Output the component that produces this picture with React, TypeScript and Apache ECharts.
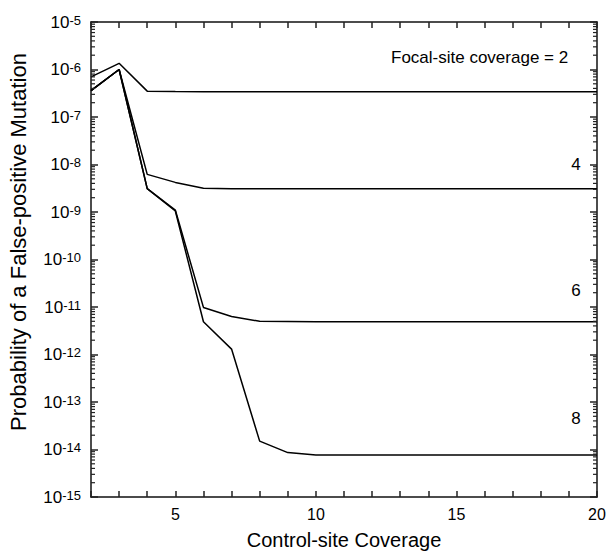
import React, { useEffect, useRef } from "react";
import * as echarts from "echarts";

const xValues = [2, 3, 4, 5, 6, 7, 8, 9, 10, 11, 12, 13, 14, 15, 16, 17, 18, 19, 20];
const focal2 = [7.0e-7, 1.35e-6, 3.5e-7, 3.45e-7, 3.42e-7, 3.4e-7, 3.4e-7, 3.4e-7, 3.4e-7, 3.4e-7, 3.4e-7, 3.4e-7, 3.4e-7, 3.4e-7, 3.4e-7, 3.4e-7, 3.4e-7, 3.4e-7, 3.4e-7];
const focal4 = [3.6e-7, 1.0e-6, 6.2e-9, 4.2e-9, 3.15e-9, 3.1e-9, 3.1e-9, 3.1e-9, 3.1e-9, 3.1e-9, 3.1e-9, 3.1e-9, 3.1e-9, 3.1e-9, 3.1e-9, 3.1e-9, 3.1e-9, 3.1e-9, 3.1e-9];
const focal6 = [3.6e-7, 1.0e-6, 3.1e-9, 1.1e-9, 9.8e-12, 6.3e-12, 5.0e-12, 4.95e-12, 4.9e-12, 4.9e-12, 4.9e-12, 4.9e-12, 4.9e-12, 4.9e-12, 4.9e-12, 4.9e-12, 4.9e-12, 4.9e-12, 4.9e-12];
const focal8 = [3.6e-7, 1.0e-6, 3.1e-9, 1.05e-9, 4.9e-12, 1.3e-12, 1.5e-14, 8.6e-15, 7.7e-15, 7.7e-15, 7.7e-15, 7.7e-15, 7.7e-15, 7.7e-15, 7.7e-15, 7.7e-15, 7.7e-15, 7.7e-15, 7.7e-15];

const xLabelValues = [5, 10, 15, 20];
const yMin = 1e-15;
const yMax = 1e-5;
const xMin = 2;
const xMax = 20;

const curveLabels = ["Focal-site coverage = 2", "4", "6", "8"];

const minorTickValues: number[] = [];
for (let e = -15; e < -5; e++) {
  for (let k = 2; k <= 9; k++) minorTickValues.push(k * Math.pow(10, e));
}

const FONT = "Liberation Sans, Arial, sans-serif";
const AX = "#111";
const TK = "#222";

export default function App() {
  const ref = useRef<HTMLDivElement>(null);
  useEffect(() => {
    if (!ref.current) return;
    const chart = echarts.init(ref.current, undefined, { renderer: "svg" });
    const mk = (arr: number[]) => xValues.map((x, i) => [x, arr[i]]);
    const lineSeries = (name: string, arr: number[]) => ({
      name,
      type: "line",
      data: mk(arr),
      symbol: "none",
      lineStyle: { color: "#000", width: 1.5 },
      z: 3,
    });
    const yLabelFmt = (v: number) => {
      const e = Math.round(Math.log10(v));
      return `{b|10}{s|${e}}`;
    };
    const xTick = { show: true, inside: true, length: 6, lineStyle: { color: TK, width: 1.5 } };
    const yTick = { show: true, inside: true, length: 7, lineStyle: { color: TK, width: 1.5 } };
    chart.setOption({
      animation: false,
      grid: { left: 91, right: 11, top: 22, bottom: 54, outerBoundsMode: "none" },
      xAxis: [
        {
          type: "value",
          min: xMin,
          max: xMax,
          interval: 1,
          position: "bottom",
          axisLine: { show: true, lineStyle: { color: AX, width: 1.5 } },
          axisTick: xTick,
          splitLine: { show: false },
          name: "Control-site Coverage",
          nameLocation: "middle",
          nameGap: 33,
          nameTextStyle: { fontFamily: FONT, fontSize: 20, color: "#000" },
          axisLabel: {
            fontFamily: FONT,
            fontSize: 16,
            color: "#000",
            margin: 9,
            formatter: (v: number) => (xLabelValues.includes(v) ? String(v) : ""),
          },
        },
        {
          type: "value",
          min: xMin,
          max: xMax,
          interval: 1,
          position: "top",
          axisLine: { show: true, lineStyle: { color: AX, width: 1.5 } },
          axisTick: xTick,
          splitLine: { show: false },
          axisLabel: { show: false },
        },
      ],
      yAxis: [
        {
          type: "log",
          min: yMin,
          max: yMax,
          interval: 1,
          position: "left",
          axisLine: { show: true, lineStyle: { color: AX, width: 1.5 } },
          axisTick: yTick,
          splitLine: { show: false },
          axisLabel: {
            margin: 10,
            formatter: yLabelFmt,
            rich: {
              b: { fontSize: 17, color: "#000" },
              s: { fontSize: 13, color: "#000", verticalAlign: "top" },
            },
          },
        },
        {
          type: "log",
          min: yMin,
          max: yMax,
          interval: 1,
          position: "right",
          axisLine: { show: true, lineStyle: { color: AX, width: 1.5 } },
          axisTick: yTick,
          splitLine: { show: false },
          axisLabel: { show: false },
        },
      ],
      series: [
        lineSeries("2", focal2),
        lineSeries("4", focal4),
        lineSeries("6", focal6),
        lineSeries("8", focal8),
        {
          type: "custom",
          silent: true,
          z: 10,
          data: minorTickValues.map((v) => [xMin, v]),
          renderItem: (params: any, api: any) => {
            const v = api.value(1);
            const pL = api.coord([xMin, v]);
            const pR = api.coord([xMax, v]);
            const st = { stroke: TK, lineWidth: 1.2 };
            return {
              type: "group",
              children: [
                { type: "line", shape: { x1: pL[0], y1: pL[1], x2: pL[0] + 4, y2: pL[1] }, style: st },
                { type: "line", shape: { x1: pR[0], y1: pR[1], x2: pR[0] - 4, y2: pR[1] }, style: st },
              ],
            };
          },
        },
      ],
      graphic: [
        {
          type: "text",
          x: 18,
          y: 242,
          rotation: Math.PI / 2,
          style: {
            text: "Probability of a False-positive Mutation",
            fontFamily: FONT,
            fontSize: 22,
            fill: "#000",
            textAlign: "center",
            textVerticalAlign: "middle",
          },
        },
        { type: "text", x: 391, y: 57, style: { text: curveLabels[0], fontFamily: FONT, fontSize: 17, fill: "#000", textVerticalAlign: "middle" } },
        { type: "text", x: 576, y: 164, style: { text: curveLabels[1], fontFamily: FONT, fontSize: 17, fill: "#000", textAlign: "center", textVerticalAlign: "middle" } },
        { type: "text", x: 576, y: 290, style: { text: curveLabels[2], fontFamily: FONT, fontSize: 17, fill: "#000", textAlign: "center", textVerticalAlign: "middle" } },
        { type: "text", x: 576, y: 418, style: { text: curveLabels[3], fontFamily: FONT, fontSize: 17, fill: "#000", textAlign: "center", textVerticalAlign: "middle" } },
      ],
    });
    return () => chart.dispose();
  }, []);
  return <div ref={ref} style={{ width: 608, height: 551, position: "absolute", left: 0, top: 0 }} />;
}
